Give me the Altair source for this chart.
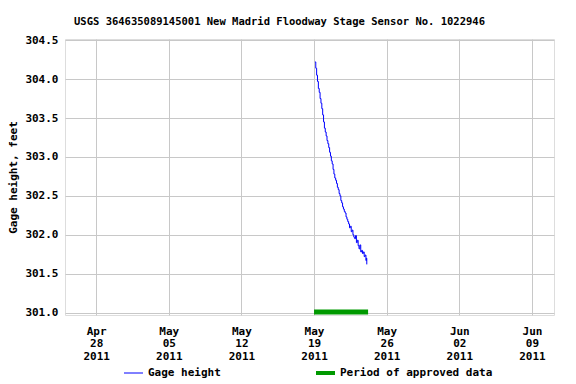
import altair as alt
import pandas as pd

hours = [2, 4, 6, 8, 10, 12, 14, 16, 18, 20, 22, 24, 26, 28, 30, 32, 34, 36, 38, 40,
         42, 44, 46, 48, 50, 52, 54, 56, 58, 60, 62, 64, 66, 68, 70, 72, 74, 76, 78, 80,
         82, 84, 86, 88, 90, 92, 94, 96, 98, 100, 102, 104, 106, 108, 110, 112, 114, 116,
         118, 120, 121, 122]
gage = [304.22, 304.14, 304.05, 303.97, 303.88, 303.83, 303.75, 303.69, 303.62, 303.54,
        303.45, 303.37, 303.32, 303.27, 303.21, 303.17, 303.12, 303.06, 303.01, 302.95,
        302.91, 302.84, 302.78, 302.73, 302.70, 302.66, 302.61, 302.58, 302.53, 302.50,
        302.44, 302.41, 302.36, 302.33, 302.30, 302.28, 302.23, 302.20, 302.17, 302.14,
        302.09, 302.11, 302.04, 302.06, 302.00, 301.97, 301.95, 301.99, 301.90, 301.93,
        301.86, 301.82, 301.87, 301.78, 301.80, 301.76, 301.78, 301.72, 301.74, 301.67,
        301.70, 301.62]

approved_start = "2011-05-19T00:00:00Z"
approved_end = "2011-05-24T05:00:00Z"
approved_level = [301.01]

tick_dates = [(2011, 4, 28), (2011, 5, 5), (2011, 5, 12), (2011, 5, 19),
              (2011, 5, 26), (2011, 6, 2), (2011, 6, 9)]
y_ticks = [301.0, 301.5, 302.0, 302.5, 303.0, 303.5, 304.0, 304.5]

legend_labels = ["Gage height", "Period of approved data"]

base_time = pd.Timestamp("2011-05-19T00:00:00Z")
df = pd.DataFrame({
    "time": [(base_time + pd.Timedelta(hours=h)).strftime("%Y-%m-%dT%H:%M:%SZ") for h in hours],
    "gage": gage,
})
df_appr = pd.DataFrame({"start": [approved_start], "end": [approved_end], "level": approved_level})

FONT = "DejaVu Sans Mono"

xscale = alt.Scale(type="utc",
                   domain=[alt.DateTime(year=2011, month=4, date=25, utc=True),
                           alt.DateTime(year=2011, month=6, date=11, hours=3, utc=True)])
yscale = alt.Scale(domain=[300.97, 304.515], nice=False, zero=False)

xaxis = alt.Axis(
    values=[alt.DateTime(year=y, month=m, date=d, utc=True) for (y, m, d) in tick_dates],
    labelExpr="[utcFormat(datum.value, '%b'), utcFormat(datum.value, '%d'), utcFormat(datum.value, '%Y')]",
    labelLineHeight=12.7, labelPadding=10, ticks=False, domain=False, labelOverlap=False,
    tickCount=30,
    grid=True, gridColor="#c8c8c8", title=None, labelFont=FONT, labelFontWeight="bold",
    labelFontSize=11, labelColor="black", labelBaseline="top",
)
yaxis = alt.Axis(
    values=y_ticks, format=".1f", ticks=False, domain=False, grid=True, gridColor="#c8c8c8",
    tickCount=30,
    labelPadding=7, title="Gage height, feet", titlePadding=6, labelFont=FONT,
    labelOverlap=False, labelFlush=False,
    labelFontWeight="bold", labelFontSize=11, labelColor="black", titleFont=FONT,
    titleFontWeight="bold", titleFontSize=11, titleColor="black",
)

line = alt.Chart(df).mark_line(color="#0000ff", strokeWidth=1, interpolate="step-after").encode(
    x=alt.X("time:T", scale=xscale, axis=xaxis),
    y=alt.Y("gage:Q", scale=yscale, axis=yaxis),
)

appr = alt.Chart(df_appr).mark_rule(color="#009900", strokeWidth=5).encode(
    x=alt.X("start:T", scale=xscale),
    x2="end:T",
    y=alt.Y("level:Q", scale=yscale),
)

LEG_Y = 334
leg_df = pd.DataFrame({"label": legend_labels})
leg_line1 = alt.Chart(leg_df).transform_filter(alt.datum.label == legend_labels[0]).mark_rule(
    color="#0000ff", strokeWidth=1).encode(x=alt.value(59), x2=alt.value(78), y=alt.value(LEG_Y))
leg_text1 = alt.Chart(leg_df).transform_filter(alt.datum.label == legend_labels[0]).mark_text(
    font=FONT, fontWeight="bold", fontSize=11, align="left", baseline="middle", color="black"
).encode(x=alt.value(83), y=alt.value(LEG_Y), text="label:N")
leg_line2 = alt.Chart(leg_df).transform_filter(alt.datum.label == legend_labels[1]).mark_rule(
    color="#009900", strokeWidth=4).encode(x=alt.value(251), x2=alt.value(270), y=alt.value(LEG_Y))
leg_text2 = alt.Chart(leg_df).transform_filter(alt.datum.label == legend_labels[1]).mark_text(
    font=FONT, fontWeight="bold", fontSize=11, align="left", baseline="middle", color="black"
).encode(x=alt.value(275), y=alt.value(LEG_Y), text="label:N")

chart = alt.layer(line, appr, leg_line1, leg_text1, leg_line2, leg_text2).properties(
    width=489, height=276,
    autosize="none",
    padding={"left": 65, "top": 39, "right": 22, "bottom": 69},
    title=alt.TitleParams(
        "USGS 364635089145001 New Madrid Floodway Stage Sensor No. 1022946",
        font=FONT, fontSize=10.5, fontWeight="bold", color="black", anchor="middle",
        dx=-30, offset=7,
    ),
).configure_view(stroke="black", strokeWidth=1.5).configure(background="white")

chart.save("out.html", embed_options={"renderer": "svg", "actions": False})
